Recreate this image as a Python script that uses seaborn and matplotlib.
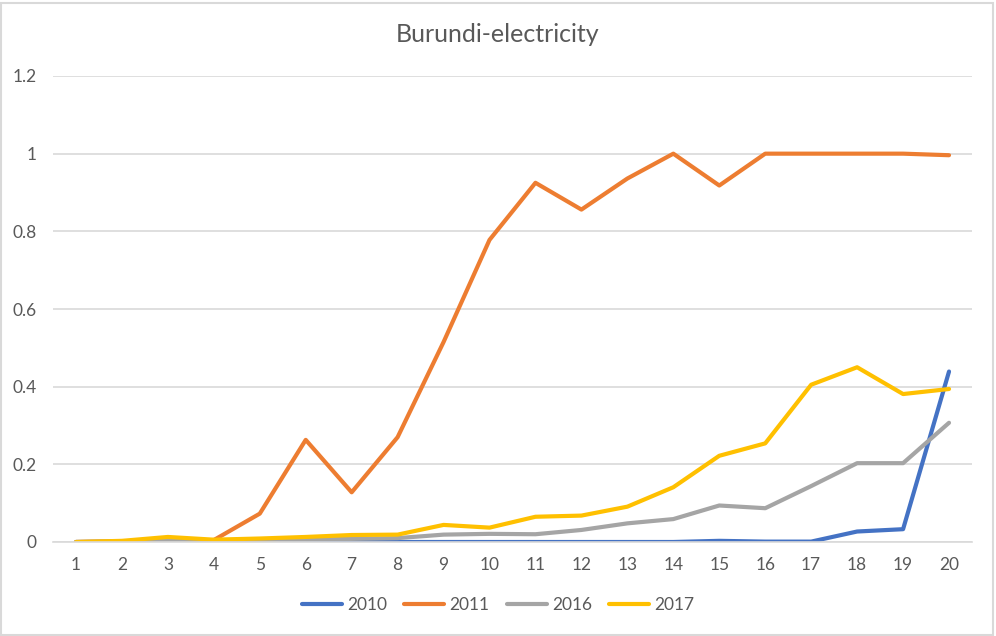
import matplotlib
matplotlib.use("Agg")
import matplotlib.pyplot as plt
import matplotlib.patches as patches
import numpy as np
import pandas as pd
import seaborn as sns

# values
steps = list(range(1, 21))
y2010 = [0, 0, 0, 0, 0, 0, 0, 0, 0, 0, 0, 0, 0, 0, 0.003, 0.001, 0.001, 0.027, 0.033, 0.439]
y2011 = [0, 0.002, 0.003, 0.005, 0.073, 0.263, 0.128, 0.27, 0.515, 0.778, 0.925, 0.856, 0.936, 1.0,
         0.918, 1.0, 1.0, 1.0, 1.0, 0.996]
y2016 = [0, 0.002, 0.004, 0.005, 0.005, 0.006, 0.008, 0.01, 0.019, 0.021, 0.02, 0.031, 0.048, 0.059,
         0.094, 0.087, 0.144, 0.203, 0.203, 0.307]
y2017 = [0, 0.003, 0.013, 0.006, 0.009, 0.013, 0.018, 0.019, 0.044, 0.037, 0.065, 0.068, 0.091, 0.141,
         0.222, 0.254, 0.405, 0.45, 0.381, 0.394]
years = ["2010", "2011", "2016", "2017"]
colors = ["#4472C4", "#ED7D31", "#A5A5A5", "#FFC000"]

df = pd.concat([
    pd.DataFrame({"step": steps, "value": vals, "year": yr})
    for yr, vals in zip(years, [y2010, y2011, y2016, y2017])
])

sns.set_style("white")
plt.rcParams['font.family'] = ['Lato', 'DejaVu Sans']
txt = "#595959"
grid = "#D9D9D9"

fig = plt.figure(figsize=(9.96, 6.36), dpi=100)
ax = fig.add_axes([53/996, (636-542)/636, (972-53)/996, (542-76)/636])

sns.lineplot(data=df, x="step", y="value", hue="year", palette=colors, linewidth=3.0,
             ax=ax, legend=True)

ax.set_xlim(0.5, 20.5)
ax.set_ylim(0, 1.2)
ax.set_xticks(steps)
ax.set_yticks([0, 0.2, 0.4, 0.6, 0.8, 1.0, 1.2])
ax.set_yticklabels(["0", "0.2", "0.4", "0.6", "0.8", "1", "1.2"])
ax.set_xlabel("")
ax.set_ylabel("")
ax.grid(axis="y", color=grid, linewidth=1.2)
ax.set_axisbelow(True)
for s in ["top", "right", "left"]:
    ax.spines[s].set_visible(False)
ax.spines["bottom"].set_color(grid)
ax.spines["bottom"].set_linewidth(1.2)
ax.tick_params(axis="both", length=0, labelsize=12.5, labelcolor=txt)
ax.tick_params(axis="x", pad=11)
ax.tick_params(axis="y", pad=12)

fig.text(0.5, (636-35)/636, "Burundi-electricity", ha="center", va="center",
         fontsize=18, color=txt)

handles, labels = ax.get_legend_handles_labels()
ax.legend_.remove()
for h in handles:
    h.set_solid_capstyle("round")
fig.legend(handles, labels, loc="center", bbox_to_anchor=(0.5, (636-605)/636), ncol=4,
           frameon=False, fontsize=12.5, labelcolor=txt, handlelength=2.3,
           handletextpad=0.3, columnspacing=1.0)

fig.patches.append(patches.Rectangle((0.5/996, 1.5/636), 992/996, 632/636, transform=fig.transFigure,
                                     fill=False, edgecolor=grid, linewidth=1.5))

fig.savefig("out.png", dpi=100)
